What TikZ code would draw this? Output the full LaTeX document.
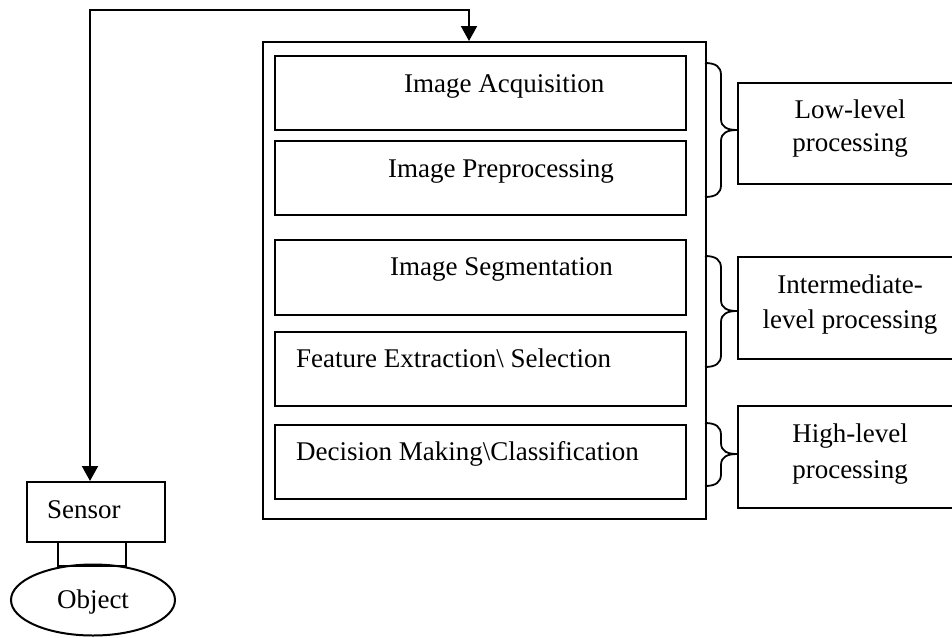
\documentclass[tikz,border=0pt]{standalone}
\usepackage{fontspec}
\setmainfont{Liberation Serif}
\usetikzlibrary{arrows.meta,shapes.geometric}
\begin{document}
\begin{tikzpicture}[x=1pt,y=-1pt,
  lw/.style={line width=2pt},
  box/.style={draw,lw,rectangle,inner sep=0pt,anchor=north west},
  txt/.style={inner sep=0pt,anchor=base west,font=\fontsize{27}{33}\selectfont},
  ctxt/.style={inner sep=0pt,anchor=base,font=\fontsize{27}{33}\selectfont},
  arr/.style={lw,{Triangle[length=15pt,width=16pt]}-{Triangle[length=15pt,width=16pt]}},
  brace/.style={line width=1.8pt}]
\useasboundingbox (0,0) rectangle (952,637);
% outer box
\node[box,minimum width=443pt,minimum height=477pt] (outer) at (262,41) {};
% inner boxes
\node[box,minimum width=411pt,minimum height=74pt] (acq) at (274,55) {};
\node[box,minimum width=411pt,minimum height=74pt] (pre) at (274,140) {};
\node[box,minimum width=411pt,minimum height=75pt] (seg) at (274,239) {};
\node[box,minimum width=411pt,minimum height=74pt] (fea) at (274,331) {};
\node[box,minimum width=411pt,minimum height=74pt] (dec) at (274,424) {};
\node[txt] (tacq) at (404,92) {Image Acquisition};
\node[txt] (tpre) at (388,177) {Image Preprocessing};
\node[txt] (tseg) at (390,275) {Image Segmentation};
\node[txt] (tfea) at (296,367) {Feature Extraction\textbackslash\ Selection};
\node[txt] (tdec) at (296,460) {Decision Making\textbackslash Classification};
% right boxes (extend past right edge)
\node[box,minimum width=240pt,minimum height=101pt] (low) at (737,82) {};
\node[box,minimum width=240pt,minimum height=102pt] (mid) at (737,256) {};
\node[box,minimum width=240pt,minimum height=102pt] (high) at (737,405) {};
\node[ctxt] (low1) at (850,118) {Low-level};
\node[ctxt] (low2) at (850,151) {processing};
\node[ctxt] (mid1) at (850,293) {Intermediate-};
\node[ctxt] (mid2) at (850,328) {level processing};
\node[ctxt] (high1) at (850,442) {High-level};
\node[ctxt] (high2) at (850,478) {processing};
% braces
\newcommand{\mybrace}[3]{%
  \draw[brace] (705,#1) .. controls (716,#1) and (721,#1+4) .. (721,#1+12)
    -- (721,#2-11) .. controls (721,#2-3) and (727,#2) .. (737,#2)
    .. controls (727,#2) and (721,#2+3) .. (721,#2+11)
    -- (721,#3-12) .. controls (721,#3-4) and (716,#3) .. (705,#3);}
\mybrace{63}{130}{197}
\mybrace{256}{311}{367}
\mybrace{423}{454}{486}
% sensor and object
\node[box,minimum width=138pt,minimum height=60pt] (sensor) at (26,481) {};
\node[txt] (tsensor) at (47,518) {Sensor};
\node[box,minimum width=68pt,minimum height=24pt] (conn) at (57,541) {};
\node[draw,lw,ellipse,minimum width=164pt,minimum height=71pt,inner sep=0pt] (object) at (93,600) {};
\node[ctxt] (tobj) at (93,608) {Object};
% feedback arrow
\coordinate (sin) at (90,481);
\coordinate (in) at (469,41);
\coordinate (tr) at (469,10);
\draw[arr] (sin) |- (tr) -- (in);
\end{tikzpicture}
\end{document}
